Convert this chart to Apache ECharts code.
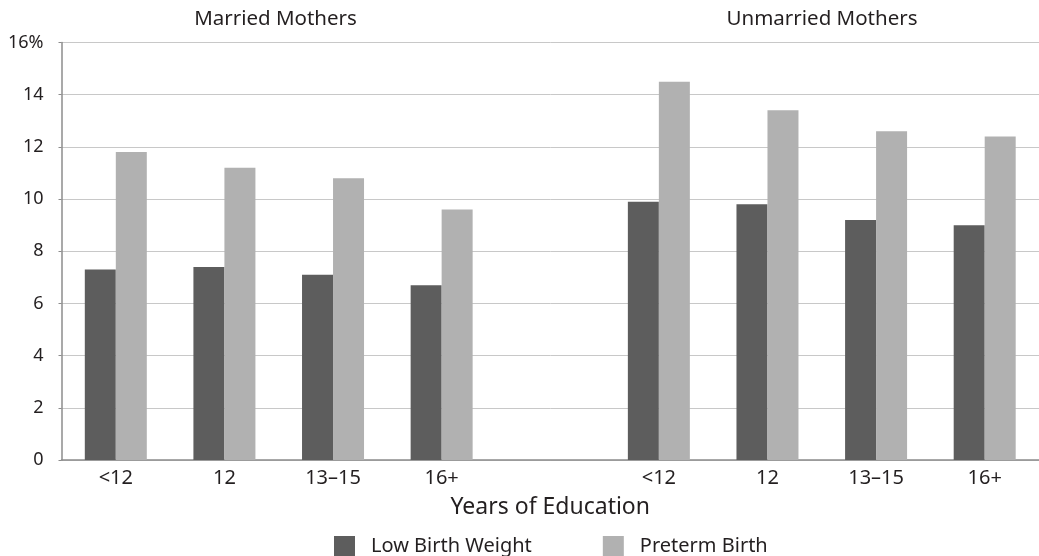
<!DOCTYPE html>
<html>
<head>
<meta charset="utf-8">
<script src="https://cdn.jsdelivr.net/npm/echarts@6/dist/echarts.min.js"></script>
<style>
html, body { margin: 0; padding: 0; background: #fff; }
#chart { width: 1039px; height: 556px; }
</style>
</head>
<body>
<div id="chart"></div>
<script>
// categories: married group, an empty spacer slot, unmarried group
var categories = ['<12', '12', '13–15', '16+', '', '<12', '12', '13–15', '16+'];
var lowBirthWeight = [7.3, 7.4, 7.1, 6.7, null, 9.9, 9.8, 9.2, 9.0];
var pretermBirth = [11.8, 11.2, 10.8, 9.6, null, 14.5, 13.4, 12.6, 12.4];
var groupTitles = ['Married Mothers', 'Unmarried Mothers'];

var font = 'Noto Sans';
var textColor = '#231f20';

var chart = echarts.init(document.getElementById('chart'));
var option = {
    animation: false,
    textStyle: { fontFamily: font },
    title: [
        { text: groupTitles[0], left: 270.5, top: 4, padding: 5, textAlign: 'center',
          textStyle: { fontSize: 20.5, fontWeight: 'normal', color: textColor, fontFamily: font } },
        { text: groupTitles[1], left: 817, top: 4, padding: 5, textAlign: 'center',
          textStyle: { fontSize: 20.5, fontWeight: 'normal', color: textColor, fontFamily: font } }
    ],
    legend: {
        left: 334,
        top: 536,
        padding: 0,
        itemWidth: 21,
        itemHeight: 21,
        itemGap: 71,
        icon: 'rect',
        textStyle: { fontSize: 20, color: textColor, padding: [0, 0, 0, 11], fontFamily: font },
        data: ['Low Birth Weight', 'Preterm Birth']
    },
    grid: { left: 61.5, top: 42.5, width: 981, height: 417.5 },
    xAxis: {
        type: 'category',
        data: categories,
        name: 'Years of Education',
        nameLocation: 'middle',
        nameGap: 36,
        nameTextStyle: { fontSize: 23, color: textColor, fontFamily: font },
        axisLine: { lineStyle: { color: '#8c8c8c', width: 1.5 } },
        axisTick: { show: false },
        axisLabel: { fontSize: 20, color: textColor, margin: 8, fontFamily: font }
    },
    yAxis: {
        type: 'value',
        min: 0,
        max: 16,
        interval: 2,
        axisLine: { show: true, lineStyle: { color: '#8c8c8c', width: 1.5 } },
        axisTick: { show: true, length: 3, lineStyle: { color: '#8c8c8c' } },
        axisLabel: {
            fontSize: 18, color: textColor, margin: 18, fontFamily: font,
            formatter: function (v) { return v === 16 ? '16%' : v; }
        },
        splitLine: { lineStyle: { color: '#c8c8c8', width: 1 } }
    },
    series: [
        { name: 'Low Birth Weight', type: 'bar', data: lowBirthWeight,
          barWidth: 31, barGap: '0%', itemStyle: { color: '#5d5d5d' } },
        { name: 'Preterm Birth', type: 'bar', data: pretermBirth,
          barWidth: 31, barGap: '0%', itemStyle: { color: '#b1b1b1' } }
    ]
};
chart.setOption(option);
</script>
</body>
</html>
